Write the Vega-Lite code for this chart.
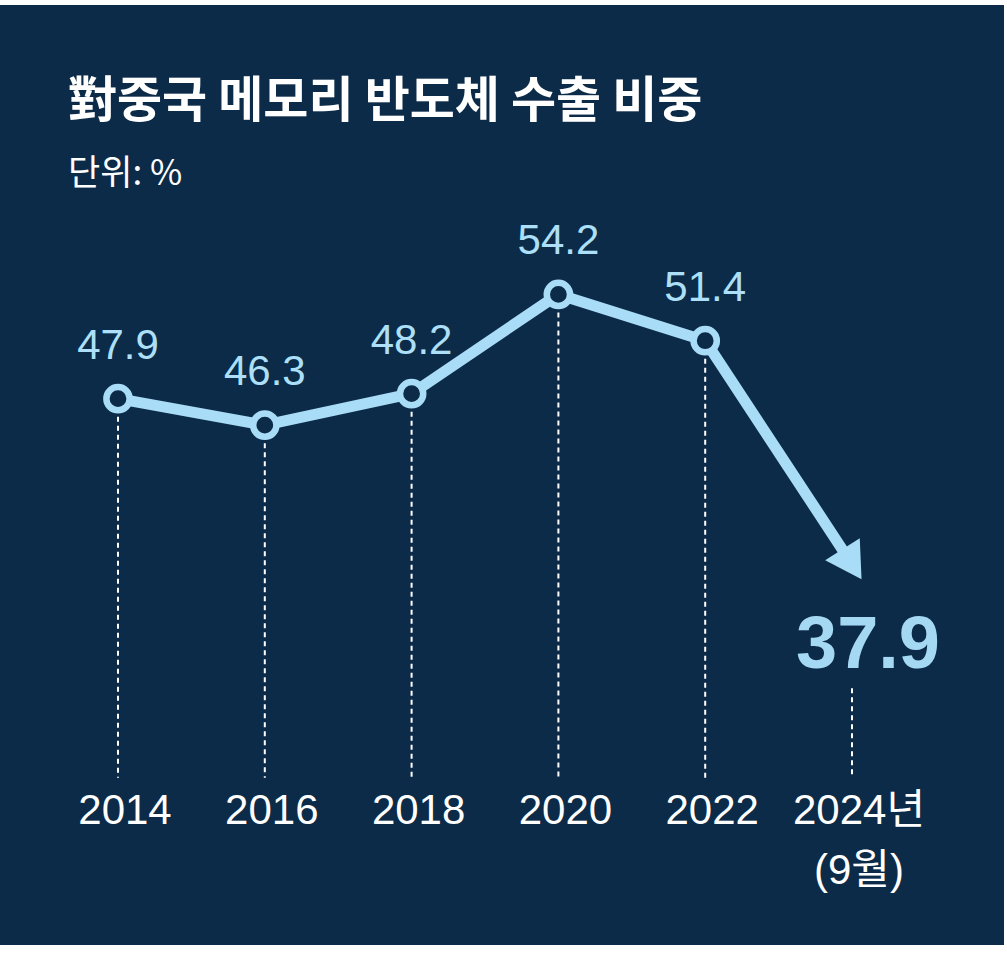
{
  "$schema": "https://vega.github.io/schema/vega-lite/v6.json",
  "width": 1004,
  "height": 940,
  "autosize": {"type": "none"},
  "padding": {"left": 0, "top": 5, "right": 3, "bottom": 8},
  "background": "#ffffff",
  "config": {"view": {"fill": "#0c2b48", "stroke": null}},
  "title": {
    "text": "對중국 메모리 반도체 수출 비중",
    "subtitle": "단위: %",
    "anchor": "start",
    "frame": "group",
    "orient": "top",
    "offset": 0,
    "dx": 68,
    "dy": 187,
    "font": "Noto Sans CJK KR",
    "fontSize": 49,
    "fontWeight": "bold",
    "color": "#ffffff",
    "subtitleFont": "Noto Sans CJK KR",
    "subtitleFontSize": 35,
    "subtitleFontWeight": "normal",
    "subtitleColor": "#ffffff",
    "subtitlePadding": 30
  },
  "data": {
    "values": [
      {"year": 2014, "value": 47.9, "label": "2014"},
      {"year": 2016, "value": 46.3, "label": "2016"},
      {"year": 2018, "value": 48.2, "label": "2018"},
      {"year": 2020, "value": 54.2, "label": "2020"},
      {"year": 2022, "value": 51.4, "label": "2022"},
      {"year": 2024, "value": 37.9, "label": "2024년\n(9월)"}
    ]
  },
  "encoding": {
    "x": {
      "field": "year",
      "type": "quantitative",
      "scale": {"domain": [2014, 2024], "range": [118, 852]},
      "axis": null
    }
  },
  "layer": [
    {
      "transform": [{"filter": "datum.year < 2024"}],
      "mark": {"type": "rule", "color": "#ffffff", "strokeWidth": 2, "strokeDash": [5, 4]},
      "encoding": {
        "y": {
          "field": "value",
          "type": "quantitative",
          "scale": {"domain": [20, 60], "range": [855.4, 193.4], "nice": false, "zero": false},
          "axis": null
        },
        "y2": {"datum": 25}
      }
    },
    {
      "transform": [{"filter": "datum.year == 2024"}],
      "mark": {"type": "rule", "color": "#ffffff", "strokeWidth": 2, "strokeDash": [5, 4]},
      "encoding": {
        "y": {
          "datum": 30.4,
          "type": "quantitative",
          "scale": {"domain": [20, 60], "range": [855.4, 193.4], "nice": false, "zero": false}
        },
        "y2": {"datum": 25}
      }
    },
    {
      "mark": {"type": "line", "color": "#a9dcf7", "strokeWidth": 11, "strokeJoin": "round"},
      "encoding": {
        "y": {
          "field": "value",
          "type": "quantitative",
          "scale": {"domain": [20, 60], "range": [855.4, 193.4], "nice": false, "zero": false}
        }
      }
    },
    {
      "transform": [{"filter": "datum.year < 2024"}],
      "mark": {
        "type": "point",
        "shape": "circle",
        "filled": false,
        "fill": "#0c2b48",
        "fillOpacity": 1,
        "stroke": "#a9dcf7",
        "strokeWidth": 6.5,
        "opacity": 1,
        "size": 540
      },
      "encoding": {
        "y": {
          "field": "value",
          "type": "quantitative",
          "scale": {"domain": [20, 60], "range": [855.4, 193.4], "nice": false, "zero": false}
        }
      }
    },
    {
      "transform": [{"filter": "datum.year == 2024"}],
      "mark": {
        "type": "point",
        "shape": "triangle-down",
        "filled": true,
        "color": "#a9dcf7",
        "opacity": 1,
        "size": 1681,
        "angle": 327.5
      },
      "encoding": {
        "y": {
          "field": "value",
          "type": "quantitative",
          "scale": {"domain": [20, 60], "range": [855.4, 193.4], "nice": false, "zero": false}
        }
      }
    },
    {
      "transform": [{"filter": "datum.year < 2024"}],
      "mark": {
        "type": "text",
        "font": "Liberation Sans",
        "fontSize": 42,
        "color": "#ade0f8",
        "align": "center",
        "baseline": "alphabetic",
        "dy": -40
      },
      "encoding": {
        "y": {
          "field": "value",
          "type": "quantitative",
          "scale": {"domain": [20, 60], "range": [855.4, 193.4], "nice": false, "zero": false}
        },
        "text": {"field": "value", "type": "quantitative", "format": ".1f"}
      }
    },
    {
      "transform": [{"filter": "datum.year == 2024"}],
      "mark": {
        "type": "text",
        "font": "Liberation Sans",
        "fontSize": 74,
        "fontWeight": "bold",
        "color": "#a5d8f3",
        "align": "center",
        "baseline": "alphabetic",
        "dx": 16,
        "dy": 104
      },
      "encoding": {
        "y": {
          "field": "value",
          "type": "quantitative",
          "scale": {"domain": [20, 60], "range": [855.4, 193.4], "nice": false, "zero": false}
        },
        "text": {"field": "value", "type": "quantitative", "format": ".1f"}
      }
    },
    {
      "mark": {
        "type": "text",
        "font": "Liberation Sans, Noto Sans CJK KR",
        "fontSize": 42,
        "color": "#ffffff",
        "align": "center",
        "baseline": "top",
        "lineBreak": "\n",
        "lineHeight": 60,
        "dx": 7
      },
      "encoding": {
        "y": {
          "datum": 24.2,
          "type": "quantitative",
          "scale": {"domain": [20, 60], "range": [855.4, 193.4], "nice": false, "zero": false}
        },
        "text": {"field": "label", "type": "nominal"}
      }
    }
  ]
}
